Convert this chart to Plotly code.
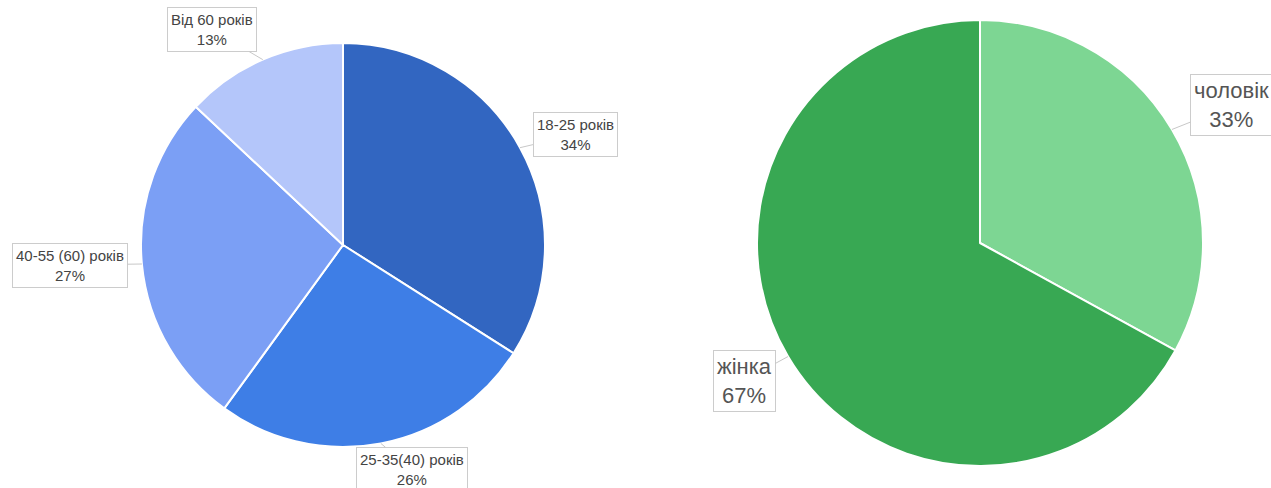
import math
import plotly.graph_objects as go

W, H = 1271, 488

age_labels = ["18-25 років", "25-35(40) років", "40-55 (60) років", "Від 60 років"]
age_values = [34, 26, 27, 13]
age_colors = ["#3266c1", "#3e7ee6", "#7b9ff5", "#b4c6fa"]

sex_labels = ["чоловік", "жінка"]
sex_values = [33, 67]
sex_colors = ["#7dd693", "#38a853"]

# pie geometry in pixels (center x, center y from top, radius)
left_geo = (343, 245, 202)
right_geo = (980, 243, 223)

# label box offsets (pixels, relative to slice edge point)
age_offsets = [(55, -13), (31, 26), (-72, 1), (-51, -30)]
sex_offsets = [(60, -24), (-44, 24)]


def domain(geo):
    cx, cy, r = geo
    return dict(x=[(cx - r) / W, (cx + r) / W], y=[1 - (cy + r) / H, 1 - (cy - r) / H])


fig = go.Figure()
fig.add_trace(go.Pie(labels=age_labels, values=age_values, sort=False, direction="clockwise",
                     rotation=0, marker=dict(colors=age_colors, line=dict(color="white", width=2)),
                     textinfo="none", hoverinfo="label+percent", domain=domain(left_geo)))
fig.add_trace(go.Pie(labels=sex_labels, values=sex_values, sort=False, direction="clockwise",
                     rotation=0, marker=dict(colors=sex_colors, line=dict(color="white", width=2)),
                     textinfo="none", hoverinfo="label+percent", domain=domain(right_geo)))


def add_labels(labels, values, geo, offsets, size, color, pad):
    cx, cy, r = geo
    total = sum(values)
    cum = 0
    for lab, v, (ax, ay) in zip(labels, values, offsets):
        mid = (cum + v / 2) / total * 2 * math.pi
        cum += v
        px = cx + r * math.sin(mid)
        py = cy - r * math.cos(mid)
        pct = round(v / total * 100)
        fig.add_annotation(x=px / W, y=1 - py / H, xref="paper", yref="paper",
                           text=f"{lab}<br>{pct}%", showarrow=True, arrowhead=0,
                           arrowwidth=1, arrowcolor="#c8c8c8", ax=ax, ay=ay,
                           bgcolor="white", bordercolor="#cccccc", borderwidth=1, borderpad=pad,
                           font=dict(family="Liberation Sans, Arial", size=size, color=color),
                           align="center")


add_labels(age_labels, age_values, left_geo, age_offsets, 15, "#444444", 3)
add_labels(sex_labels, sex_values, right_geo, sex_offsets, 22, "#555555", 3)

fig.update_layout(width=W, height=H, margin=dict(l=0, r=0, t=0, b=0),
                  paper_bgcolor="white", plot_bgcolor="white", showlegend=False)

fig.write_html("out.html")
